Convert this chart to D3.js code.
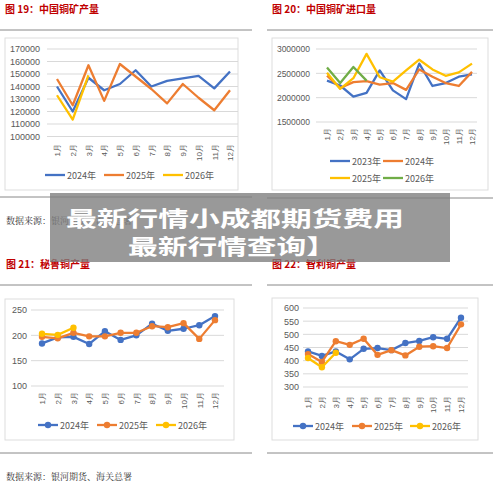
<!DOCTYPE html>
<html><head><meta charset="utf-8">
<script src="https://cdn.jsdelivr.net/npm/d3@7"></script>
<style>body{margin:0;background:#fff}svg{display:block;font-family:"Noto Sans CJK SC",sans-serif}</style>
</head><body><svg id="c" width="500" height="485"></svg>
<script>
const months = ["1月","2月","3月","4月","5月","6月","7月","8月","9月","10月","11月","12月"];
const c1Years = ["2024年","2025年","2026年"];
const c1_2024 = [140000,120000,147000,137000,142000,153000,140000,144500,146500,148500,138500,152000];
const c1_2025 = [146000,125000,157000,128500,158000,148000,138000,126500,142000,131000,121000,137000];
const c1_2026 = [133000,113500,149000];
const c1Ticks = [100000,110000,120000,130000,140000,150000,160000,170000];
const c2Years = ["2023年","2024年","2025年","2026年"];
const c2_2023 = [2350000,2250000,2020000,2100000,2560000,2150000,1970000,2700000,2240000,2300000,2430000,2480000];
const c2_2024 = [2450000,2200000,2320000,2340000,2270000,2300000,2160000,2580000,2430000,2300000,2240000,2530000];
const c2_2025 = [2510000,2180000,2400000,2900000,2420000,2330000,2560000,2780000,2580000,2450000,2520000,2700000];
const c2_2026 = [2620000,2300000,2630000,2350000];
const c2Ticks = [1500000,2000000,2500000,3000000];
const c3Years = ["2024年","2025年","2026年"];
const c3_2024 = [184,196,197,183,208,191,200,223,209,213,220,238];
const c3_2025 = [197,194,205,198,198,205,205,218,216,224,193,230];
const c3_2026 = [203,201,215];
const c3Ticks = [100,150,200,250];
const c4Years = ["2024年","2025年","2026年"];
const c4_2024 = [435,418,435,405,445,448,440,467,475,489,483,563];
const c4_2025 = [425,395,474,460,483,422,440,420,453,455,448,538];
const c4_2026 = [410,375,430];
const c4Ticks = [300,350,400,450,500,550,600];

const BLUE="#4472C4",ORANGE="#ED7D31",YELLOW="#FFC000",GREEN="#70AD47";
const svg=d3.select("#c");

function panel(o){
  const g=svg.append("g");
  g.append("text").attr("x",o.tx).attr("y",o.ty).attr("fill","#c00000").attr("font-size",10).attr("font-weight","bold").text(o.title);
  g.append("line").attr("x1",o.rx1).attr("x2",o.rx2).attr("y1",o.r1).attr("y2",o.r1).attr("stroke","#888");
  g.append("line").attr("x1",o.rx1).attr("x2",o.rx2).attr("y1",o.r2).attr("y2",o.r2).attr("stroke","#888");
  g.append("rect").attr("x",o.box[0]).attr("y",o.box[1]).attr("width",o.box[2]).attr("height",o.box[3]).attr("fill","#fff").attr("stroke","#ddd");
  const x=d3.scalePoint().domain(months).range(o.xr);
  const y=d3.scaleLinear().domain(o.yd).range(o.yr);
  const grid=g.append("g");
  o.ticks.forEach(t=>{
    grid.append("line").attr("x1",o.gx0).attr("x2",o.gx1).attr("y1",y(t)).attr("y2",y(t)).attr("stroke","#d9d9d9");
  });
  const ax=g.append("g").attr("transform",`translate(${o.gx0},0)`).call(d3.axisLeft(y).tickValues(o.ticks).tickSize(0).tickPadding(o.pad).tickFormat(d3.format("d")));
  ax.select(".domain").remove();
  ax.selectAll("text").attr("fill","#595959").attr("font-size",o.fs).attr("font-family","Liberation Sans,sans-serif");
  const xa=g.append("g").attr("transform",`translate(0,${o.xl})`).call(d3.axisBottom(x).tickSize(0).tickPadding(0));
  xa.select(".domain").remove();
  xa.selectAll("text").attr("fill","#595959").attr("font-size",8).attr("transform","rotate(-90)").attr("text-anchor","end").attr("dy","0.35em").attr("x",0).attr("y",0);
  const line=d3.line().x((d,i)=>x(months[i])).y(d=>y(d));
  o.series.forEach(s=>{
    g.append("path").datum(s.v).attr("d",line).attr("fill","none").attr("stroke",s.c).attr("stroke-width",2.3).attr("stroke-linejoin","round");
    if(o.markers) s.v.forEach((d,i)=>g.append("circle").attr("cx",x(months[i])).attr("cy",y(d)).attr("r",3.2).attr("fill",s.c));
  });
  o.legend.forEach(l=>{
    g.append("line").attr("x1",l.x).attr("x2",l.x+20).attr("y1",l.y).attr("y2",l.y).attr("stroke",l.c).attr("stroke-width",2.3);
    if(o.markers) g.append("circle").attr("cx",l.x+10).attr("cy",l.y).attr("r",3.2).attr("fill",l.c);
    g.append("text").attr("x",l.x+22).attr("y",l.y+3.5).attr("font-size",9).attr("fill","#595959").text(l.t);
  });
}

panel({title:"图 19：中国铜矿产量",tx:5,ty:13,rx1:0,rx2:252,r1:30,r2:197,box:[5,38,233,152],
  xr:[57,230],yd:[100000,170000],yr:[136.5,49],ticks:c1Ticks,gx0:47,gx1:238,pad:7,fs:9,xl:144,markers:false,
  series:[{v:c1_2024,c:BLUE},{v:c1_2025,c:ORANGE},{v:c1_2026,c:YELLOW}],
  legend:[{x:45,y:175,c:BLUE,t:c1Years[0]},{x:104,y:175,c:ORANGE,t:c1Years[1]},{x:163,y:175,c:YELLOW,t:c1Years[2]}]});
panel({title:"图 20：中国铜矿进口量",tx:272,ty:13,rx1:267,rx2:493,r1:30,r2:198,box:[272,38,216,152],
  xr:[327,472],yd:[1500000,3000000],yr:[122,49],ticks:c2Ticks,gx0:316,gx1:477,pad:6,fs:8.5,xl:128,markers:false,
  series:[{v:c2_2023,c:BLUE},{v:c2_2024,c:ORANGE},{v:c2_2025,c:YELLOW},{v:c2_2026,c:GREEN}],
  legend:[{x:330,y:161,c:BLUE,t:c2Years[0]},{x:383,y:161,c:ORANGE,t:c2Years[1]},{x:330,y:178,c:YELLOW,t:c2Years[2]},{x:383,y:178,c:GREEN,t:c2Years[3]}]});
panel({title:"图 21：秘鲁铜产量",tx:6,ty:268,rx1:0,rx2:252,r1:285,r2:453,box:[5,299,229,141],
  xr:[42,215],yd:[100,250],yr:[386,310],ticks:c3Ticks,gx0:31,gx1:224,pad:4,fs:9,xl:392,markers:true,
  series:[{v:c3_2024,c:BLUE},{v:c3_2025,c:ORANGE},{v:c3_2026,c:YELLOW}],
  legend:[{x:38,y:425,c:BLUE,t:c3Years[0]},{x:97,y:425,c:ORANGE,t:c3Years[1]},{x:156,y:425,c:YELLOW,t:c3Years[2]}]});
panel({title:"图 22：智利铜产量",tx:272,ty:268,rx1:267,rx2:493,r1:285,r2:453,box:[272,298,206,142],
  xr:[308,461],yd:[300,600],yr:[387,308],ticks:c4Ticks,gx0:303,gx1:468,pad:4,fs:9,xl:396,markers:true,
  series:[{v:c4_2024,c:BLUE},{v:c4_2025,c:ORANGE},{v:c4_2026,c:YELLOW}],
  legend:[{x:293,y:426,c:BLUE,t:c4Years[0]},{x:352,y:426,c:ORANGE,t:c4Years[1]},{x:410,y:426,c:YELLOW,t:c4Years[2]}]});

svg.append("text").attr("x",6).attr("y",224).attr("font-size",9).attr("fill","#333").attr("font-family","Noto Serif CJK SC,Noto Sans CJK SC").text("数据来源：银河期货、海关总署");
svg.append("text").attr("x",6).attr("y",480).attr("font-size",9).attr("fill","#333").attr("font-family","Noto Serif CJK SC,Noto Sans CJK SC").text("数据来源：银河期货、海关总署");

svg.append("rect").attr("x",50).attr("y",193).attr("width",400).attr("height",69).attr("fill","#7f7f7f").attr("opacity",0.8);
const ov=svg.append("g").attr("fill","#fff").attr("font-weight","bold");
ov.append("text").attr("x",66).attr("y",226).attr("font-size",21).attr("textLength",338).attr("lengthAdjust","spacingAndGlyphs").text("最新行情小成都期货费用");
ov.append("text").attr("x",128).attr("y",254).attr("font-size",21).attr("textLength",208).attr("lengthAdjust","spacingAndGlyphs").text("最新行情查询】");
</script></body></html>
